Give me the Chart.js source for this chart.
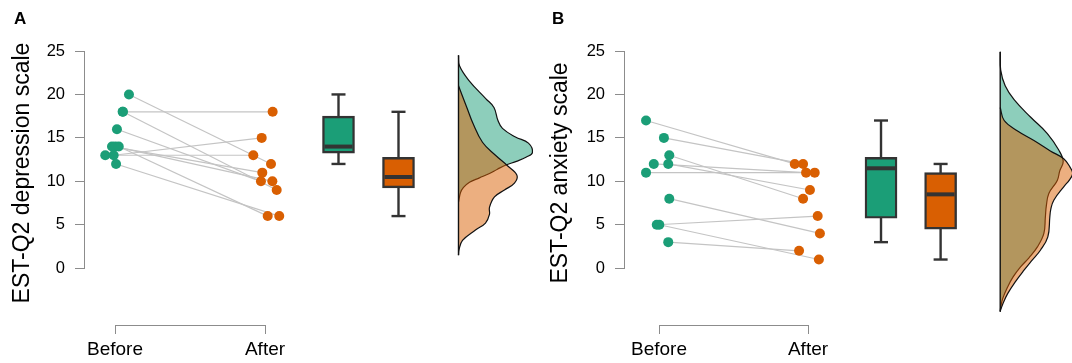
<!DOCTYPE html>
<html>
<head>
<meta charset="utf-8">
<script src="https://cdn.jsdelivr.net/npm/chart.js@4.4.1/dist/chart.umd.min.js"></script>
<style>
  html, body { margin: 0; padding: 0; background: #fff; }
  #wrap { position: relative; width: 1072px; height: 363px; overflow: hidden; }
  canvas { position: absolute; top: 0; }
</style>
</head>
<body>
<div id="wrap">
  <canvas id="mainA" width="540" height="363" style="left:0"></canvas>
  <canvas id="axisA" width="540" height="363" style="left:0"></canvas>
  <canvas id="mainB" width="532" height="363" style="left:540px"></canvas>
  <canvas id="axisB" width="532" height="363" style="left:540px"></canvas>
</div>
<script>
const categories = ['Before', 'After']
const yTicks = [0, 5, 10, 15, 20, 25]

// panel A, EST-Q2 depression, one entry per participant
const depressionBefore = [20, 18, 18, 16, 14, 14, 14, 13, 13, 12]
const depressionAfter = [12, 18, 9, 10, 11, 10, 6, 13, 15, 6]
const depressionBeforeJitter = [0.093, 0.051, 0.053, 0.013, -0.020, 0.002, 0.025, -0.065, -0.009, 0.007]
const depressionAfterJitter = [0.040, 0.051, 0.078, -0.027, -0.018, 0.049, 0.018, -0.078, -0.022, 0.095]

// panel B, EST-Q2 anxiety
const anxietyBefore = [17, 15, 13, 12, 12, 11, 8, 5, 5, 3]
const anxietyAfter = [12, 12, 8, 11, 9, 11, 4, 6, 1, 2]
const anxietyBeforeJitter = [-0.087, 0.033, 0.069, -0.035, 0.062, -0.087, 0.069, -0.015, 0.002, 0.062]
const anxietyAfterJitter = [-0.089, -0.033, -0.033, -0.013, 0.013, 0.045, 0.080, 0.065, 0.073, -0.060]

// density curves (score level -> density)
const depBeforeDensY = [24.5, 23.3, 21.6, 19.5, 18.5, 17.0, 16.1, 15.1, 14.4, 13.3, 12.8, 12.3, 11.9, 11.4, 10.9, 10.4, 9.9, 9.3, 8.7, 7.6]
const depBeforeDens = [0, .002, .021, .055, .071, .079, .088, .114, .140, .148, .136, .116, .096, .078, .062, .042, .022, .010, .004, 0]
const depAfterDensY = [21.0, 19.8, 18.3, 16.8, 14.5, 13.0, 11.8, 10.7, 9.8, 9.0, 8.2, 7.0, 6.2, 5.2, 4.4, 3.2, 2.1, 1.5]
const depAfterDens = [0, .008, .018, .028, .048, .074, .098, .117, .112, .092, .072, .062, .062, .054, .034, .008, .001, 0]

const anxBeforeDensY = [24.9, 22.8, 21.0, 19.4, 17.4, 15.5, 13.6, 12.3, 11.2, 10.1, 8.6, 7.2, 5.9, 4.0, 2.45, 1.2, 0.15, -1.0, -2.15, -3.5, -4.5, -5.0]
const anxBeforeDens = [0, .001, .010, .028, .061, .095, .118, .127, .120, .115, .098, .093, .091, .088, .075, .058, .041, .026, .015, .005, .001, 0]
const anxAfterDensY = [18.5, 17.0, 15.8, 14.7, 13.5, 12.6, 11.6, 10.9, 10.2, 9.37, 7.83, 6.8, 5.9, 3.6, 2.07, 0.9, -0.23, -1.6, -2.93, -4.0, -4.95]
const anxAfterDens = [0, .008, .035, .068, .101, .128, .141, .146, .140, .128, .108, .102, .100, .096, .081, .064, .048, .030, .015, .006, 0]

const GREEN = '#1b9e77'
const ORANGE = '#d95f02'
const GREEN_FILL = 'rgba(27,158,119,0.5)'
const ORANGE_FILL = 'rgba(217,95,2,0.5)'
const DARK = '#333333'
const AXIS = '#8c8c8c'
const FONT = "'Liberation Sans', Arial, Helvetica, sans-serif"

const BOX_POS = [2.49, 2.89]
const DENS_BASE = 3.29
const DENS_SCALE = 3.33
const TITLE_SIZE = 23
const TITLE_LH = 0.74

let quantile = (s, p) => {
  let h = (s.length - 1) * p
  let lo = Math.floor(h)
  let next = lo + 1 < s.length ? s[lo + 1] : s[lo]
  return s[lo] + (h - lo) * (next - s[lo])
}

let boxStats = values => {
  let s = [...values].sort((a, b) => a - b)
  let q1 = quantile(s, 0.25)
  let q3 = quantile(s, 0.75)
  let iqr = q3 - q1
  let inside = s.filter(v => v >= q1 - 1.5 * iqr && v <= q3 + 1.5 * iqr)
  return { q1, q3, med: quantile(s, 0.5), lo: inside[0], hi: inside[inside.length - 1] }
}

let buildDatasets = (before, after, jitBefore, jitAfter, curves) => {
  let sets = []

  // paired lines
  before.forEach((v, i) => {
    sets.push({
      type: 'line',
      data: [{ x: 1 + jitBefore[i], y: v }, { x: 2 + jitAfter[i], y: after[i] }],
      borderColor: '#c4c4c4', borderWidth: 1.2, pointRadius: 0, order: 7
    })
  })
  sets.push({
    type: 'scatter',
    data: before.map((v, i) => ({ x: 1 + jitBefore[i], y: v })),
    backgroundColor: GREEN, pointRadius: 5, pointBorderWidth: 0, order: 1
  })
  sets.push({
    type: 'scatter',
    data: after.map((v, i) => ({ x: 2 + jitAfter[i], y: v })),
    backgroundColor: ORANGE, pointRadius: 5, pointBorderWidth: 0, order: 1
  })

  // box plots
  let stats = [boxStats(before), boxStats(after)]
  stats.forEach((s, i) => {
    sets.push({
      type: 'line',
      data: [{ x: BOX_POS[i], y: s.lo }, { x: BOX_POS[i], y: s.hi }],
      borderColor: DARK, borderWidth: 2.4, pointRadius: 0, order: 6
    })
  })
  sets.push({
    type: 'bar',
    data: stats.map((s, i) => ({ x: BOX_POS[i], y: [s.q1, s.q3] })),
    backgroundColor: [GREEN, ORANGE], borderColor: DARK, borderWidth: 2.4,
    borderSkipped: false, barThickness: 32, order: 5
  })
  sets.push({
    type: 'scatter',
    data: stats.flatMap((s, i) => [{ x: BOX_POS[i], y: s.lo }, { x: BOX_POS[i], y: s.hi }]),
    pointStyle: 'line', pointRadius: 7, borderColor: DARK, pointBorderColor: DARK, pointBorderWidth: 2.4, order: 4
  })
  sets.push({
    type: 'scatter',
    data: stats.map((s, i) => ({ x: BOX_POS[i], y: s.med })),
    pointStyle: 'line', pointRadius: 14, borderColor: DARK, pointBorderColor: DARK, pointBorderWidth: 4, order: 3
  })

  // half violins
  curves.forEach((c, k) => {
    sets.push({
      type: 'line',
      data: c.y.map((v, i) => ({ x: DENS_BASE + c.dens[i] * DENS_SCALE, y: v })),
      fill: 'shape', backgroundColor: c.fill, borderColor: '#111', borderWidth: 1.2,
      pointRadius: 0, tension: 0.4, order: 10 - k
    })
  })
  let top = Math.max(...curves.map(c => c.y[0]))
  let bottom = Math.min(...curves.map(c => c.y[c.y.length - 1]))
  sets.push({
    type: 'line',
    data: [{ x: DENS_BASE, y: top }, { x: DENS_BASE, y: bottom }],
    borderColor: '#111', borderWidth: 1.4, pointRadius: 0, order: 8
  })

  // everything reads the 0-25 score axis; violins run below it, so no clipping
  sets.forEach(s => { s.yAxisID = 'y'; s.clip = false })
  return sets
}

let mainChart = (id, p) => {
  let titleW = TITLE_SIZE * TITLE_LH
  return new Chart(document.getElementById(id), {
    type: 'scatter',
    data: { datasets: p.datasets },
    options: {
      responsive: false,
      animation: false,
      devicePixelRatio: 1,
      events: [],
      layout: { autoPadding: false, padding: { left: p.padLeft, top: 8, right: 0, bottom: 25 } },
      plugins: {
        legend: { display: false },
        tooltip: { enabled: false },
        subtitle: {
          display: true, text: p.letter, position: 'top', align: 'start', color: '#000',
          font: { family: FONT, size: 17, weight: 'bold' }, padding: { top: 1, bottom: 21.6 }
        },
        title: {
          display: true, text: p.title, position: 'left', color: '#000',
          font: { family: FONT, size: TITLE_SIZE, weight: 'normal', lineHeight: TITLE_LH }, padding: 0
        }
      },
      scales: {
        x: {
          type: 'linear', min: p.xMin, max: p.xMax, offset: false,
          grid: { display: false, offset: false }, border: { display: false }, ticks: { display: false },
          afterFit: s => { s.height = 22 }
        },
        yLow: {
          axis: 'y', type: 'linear', position: 'left', stack: 'v', stackWeight: 5.5, min: -5.5, max: 0,
          grid: { display: false }, border: { display: false }, ticks: { display: false }
        },
        y: {
          type: 'linear', position: 'left', stack: 'v', stackWeight: 25, min: 0, max: 25,
          afterBuildTicks: s => { s.ticks = yTicks.map(v => ({ value: v })) },
          afterFit: s => { s.width = 84 - p.padLeft - titleW },
          ticks: { color: '#000', padding: 10, font: { family: FONT, size: 16.5 } },
          grid: { drawOnChartArea: false, drawTicks: true, tickLength: 9, color: AXIS },
          border: { display: true, color: AXIS }
        }
      }
    }
  })
}

let bracketChart = (id, main, width) => {
  let xs = main.scales.x
  return new Chart(document.getElementById(id), {
    type: 'line',
    data: { labels: categories, datasets: [] },
    options: {
      responsive: false,
      animation: false,
      devicePixelRatio: 1,
      events: [],
      layout: { autoPadding: false, padding: { left: xs.getPixelForValue(1), right: width - xs.getPixelForValue(2), top: 0, bottom: 0 } },
      plugins: { legend: { display: false }, tooltip: { enabled: false } },
      scales: {
        x: {
          type: 'category', offset: false,
          grid: { drawOnChartArea: false, drawTicks: true, tickLength: 9, color: AXIS, offset: false },
          border: { display: true, color: AXIS },
          ticks: { color: '#000', padding: 4, font: { family: FONT, size: 19 } },
          afterFit: s => { s.height = 38 }
        },
        y: { display: false }
      }
    }
  })
}

let chartA = mainChart('mainA', {
  letter: 'A', title: 'EST-Q2 depression scale', padLeft: 14,
  xMin: 1 - 31 / 150, xMax: 1 - 31 / 150 + 456 / 150,
  datasets: buildDatasets(depressionBefore, depressionAfter, depressionBeforeJitter, depressionAfterJitter, [
    { y: depBeforeDensY, dens: depBeforeDens, fill: GREEN_FILL },
    { y: depAfterDensY, dens: depAfterDens, fill: ORANGE_FILL }
  ])
})
bracketChart('axisA', chartA, 540)

let chartB = mainChart('mainB', {
  letter: 'B', title: 'EST-Q2 anxiety scale', padLeft: 12,
  xMin: 1 - 35 / 149, xMax: 1 - 35 / 149 + 448 / 149,
  datasets: buildDatasets(anxietyBefore, anxietyAfter, anxietyBeforeJitter, anxietyAfterJitter, [
    { y: anxBeforeDensY, dens: anxBeforeDens, fill: GREEN_FILL },
    { y: anxAfterDensY, dens: anxAfterDens, fill: ORANGE_FILL }
  ])
})
bracketChart('axisB', chartB, 532)
</script>
</body>
</html>
